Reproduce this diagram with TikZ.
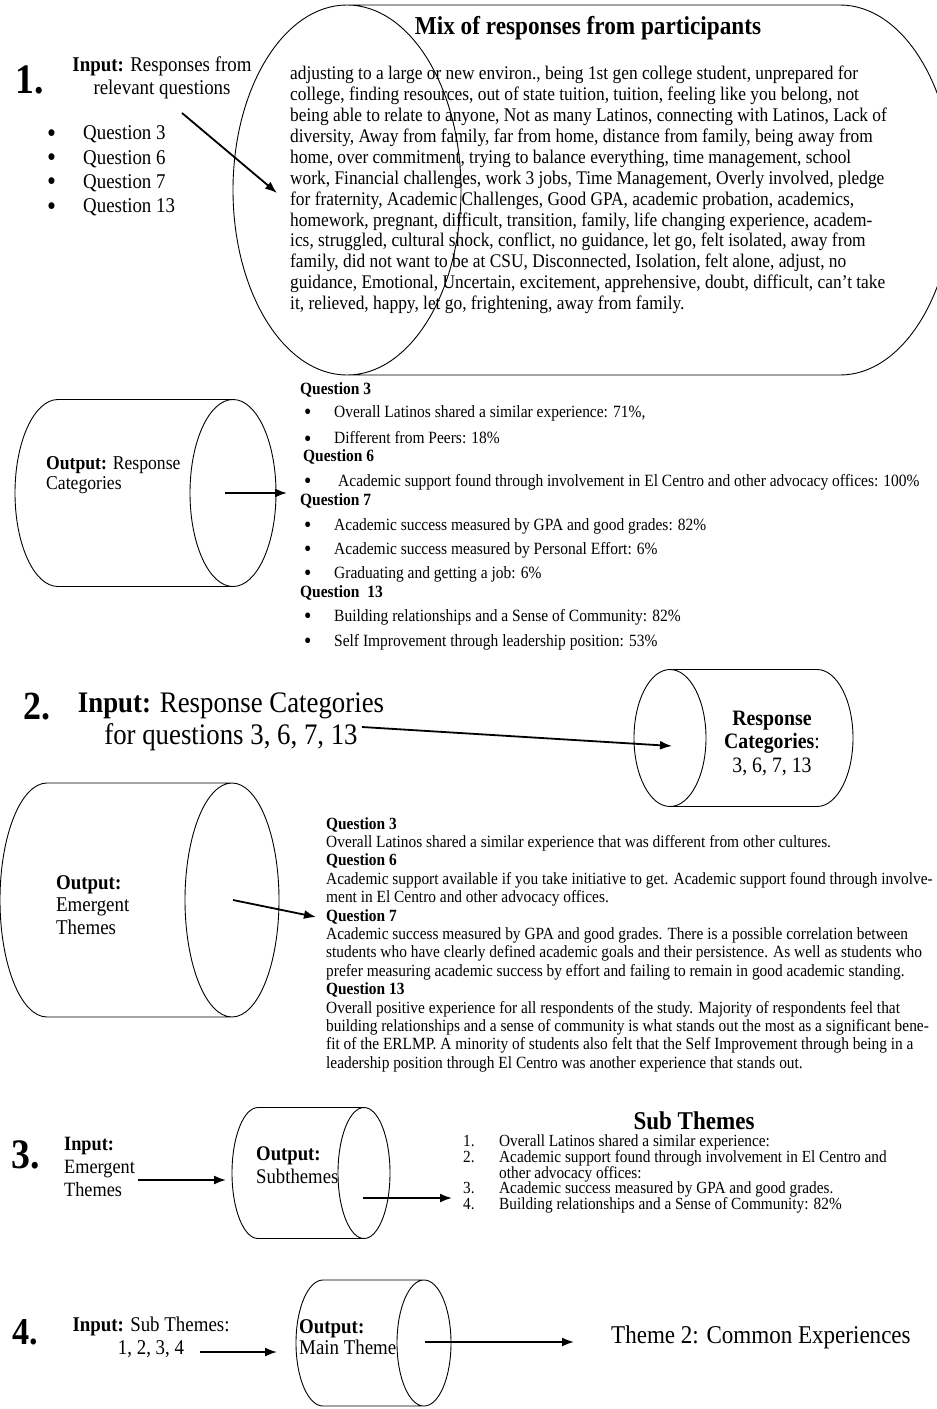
\documentclass[tikz,border=0pt]{standalone}
\usepackage{fontspec}
\setmainfont{Liberation Serif}[FakeStretch=0.9]
\usetikzlibrary{arrows.meta,positioning}
\newcommand{\fs}[2]{\fontsize{#1}{#2}\selectfont}
% cylinder, full ellipse at the right end: left cx, right cx, cy, rx, ry
\newcommand{\drumR}[5]{%
  \draw[drum] (#1,#3-#5) -- (#2,#3-#5) (#1,#3+#5) -- (#2,#3+#5)
    (#1,#3-#5) arc[start angle=-90,end angle=-270,x radius=#4,y radius=#5]
    (#2,#3) ellipse[x radius=#4,y radius=#5];}
% cylinder, full ellipse at the left end
\newcommand{\drumL}[5]{%
  \draw[drum] (#1,#3-#5) -- (#2,#3-#5) (#1,#3+#5) -- (#2,#3+#5)
    (#2,#3-#5) arc[start angle=-90,end angle=90,x radius=#4,y radius=#5]
    (#1,#3) ellipse[x radius=#4,y radius=#5];}
\tikzset{
  drum/.style={line width=0.9pt},
  flow/.style={->,line width=1.8pt},
  lbl/.style={inner sep=0pt,anchor=west,align=left},
  mid/.style={inner sep=0pt,align=center},
  item/.style={lbl,font=\fs{17.2}{18}},
  qhead/.style={lbl,font=\fs{17.2}{18}\bfseries},
}
\newcommand{\bigdot}{\smash{\raisebox{-0.12em}{\scalebox{1.35}{\textbullet}}}}
\newcommand{\bul}{\makebox[30pt][l]{\bigdot}}

\begin{document}
\begin{tikzpicture}[x=1pt,y=-1pt,>={Latex[length=12pt,width=9pt]}]
  \useasboundingbox (0,0) rectangle (937,1409);

  % Step 1: input questions
  \node[lbl,font=\fs{42}{44}\bfseries] (n1) at (15,80) {1.};
  \node[mid,font=\fs{21}{23}] (in1) at (162,78) {\textbf{Input:} Responses from\\relevant questions};
  \node[lbl,font=\fs{21}{24.3}] (qlist) at (47,171) {\makebox[36pt][l]{\bigdot}Question 3\\
    \makebox[36pt][l]{\bigdot}Question 6\\\makebox[36pt][l]{\bigdot}Question 7\\
    \makebox[36pt][l]{\bigdot}Question 13};
  \coordinate (a1) at (182,113);
  \coordinate (b1) at (277,193);
  \draw[flow] (a1) -- (b1);

  % Step 1: mix of responses
  \drumL{347}{840}{190}{114}{185}
  \node[mid,font=\fs{25.8}{28}\bfseries] (mix) at (588,28) {Mix of responses from participants};
  \node[lbl,font=\fs{19.3}{20.9}] (mixtxt) at (290,190) {adjusting to a large or new environ., being 1st gen college student, unprepared for\\
    college, finding resources,  out of state tuition, tuition, feeling like you belong, not\\
    being able to relate to anyone, Not as many Latinos, connecting with Latinos, Lack of\\
    diversity, Away from family, far from home, distance from family, being away from\\
    home, over commitment, trying to balance everything, time management, school\\
    work, Financial challenges, work 3 jobs, Time Management, Overly involved, pledge\\
    for fraternity, Academic Challenges, Good GPA, academic probation, academics,\\
    homework, pregnant, difficult, transition, family, life changing experience, academ-\\
    ics, struggled, cultural shock, conflict, no guidance, let go, felt isolated, away from\\
    family, did not want to be at CSU, Disconnected, Isolation, felt alone, adjust, no\\
    guidance, Emotional, Uncertain, excitement, apprehensive, doubt, difficult, can't take\\
    it, relieved, happy, let go, frightening, away from family.};

  % Step 1: output response categories
  \drumR{58}{233}{493}{43}{93.5}
  \node[lbl,font=\fs{19.6}{20}] (out1) at (46,475) {\textbf{Output:} Response\\Categories};
  \coordinate (a2) at (225,493);
  \coordinate (b2) at (287,493);
  \draw[flow] (a2) -- (b2);

  \node[qhead] (q3) at (300,390) {Question 3};
  \node[item] (q3a) at (304,413) {\bul Overall Latinos shared a similar experience: 71\%,};
  \node[item] (q3b) at (304,438) {\bul Different from Peers: 18\%};
  \node[qhead] (q6) at (303,457) {Question 6};
  \node[item] (q6a) at (304,482) {\bul\hspace{4pt}Academic support found through involvement in El Centro and other advocacy offices: 100\%};
  \node[qhead] (q7) at (300,501) {Question 7};
  \node[item] (q7a) at (304,526) {\bul Academic success measured by GPA and good grades: 82\%};
  \node[item] (q7b) at (304,550) {\bul Academic success measured by Personal Effort: 6\%};
  \node[item] (q7c) at (304,574) {\bul Graduating and getting a job: 6\%};
  \node[qhead] (q13) at (300,593) {Question\ \ 13};
  \node[item] (q13a) at (304,617) {\bul Building relationships and a Sense of Community: 82\%};
  \node[item] (q13b) at (304,642) {\bul Self Improvement through leadership position: 53\%};

  % Step 2: input response categories
  \node[lbl,font=\fs{40}{42}\bfseries] (n2) at (23,707) {2.};
  \node[mid,font=\fs{29.8}{32}] (in2) at (231,722) {\textbf{Input:} Response Categories\\for questions 3, 6, 7, 13};
  \drumL{670}{817}{738}{36}{68.5}
  \node[mid,font=\fs{22}{23.5}] (rc) at (772,743) {\textbf{Response}\\\textbf{Categories}:\\3, 6, 7, 13};
  \coordinate (a3) at (362,727);
  \coordinate (b3) at (672,746);
  \draw[flow] (a3) -- (b3);

  % Step 2: output emergent themes
  \drumR{47}{232}{900}{47}{117}
  \node[lbl,font=\fs{21}{22.5}] (out2) at (56,905) {\textbf{Output:}\\Emergent\\Themes};
  \coordinate (a4) at (233,900);
  \coordinate (b4) at (316,917);
  \draw[flow] (a4) -- (b4);
  \node[lbl,font=\fs{17.1}{18.4}] (emtxt) at (326,944.5) {\textbf{Question 3}\\
    Overall Latinos shared a similar experience that was different from other cultures.\\
    \textbf{Question 6}\\
    Academic support available if you take initiative to get. Academic support found through involve-\\
    ment in El Centro and other advocacy offices.\\
    \textbf{Question 7}\\
    Academic success measured by GPA and good grades. There is a possible correlation between\\
    students who have clearly defined academic goals and their persistence. As well as students who\\
    prefer measuring academic success by effort and failing to remain in good academic standing.\\
    \textbf{Question 13}\\
    Overall positive experience for all respondents of the study. Majority of respondents feel that\\
    building relationships and a sense of community is what stands out the most as a significant bene-\\
    fit of the ERLMP. A minority of students also felt that the Self Improvement through being in a\\
    leadership position through El Centro was another experience that stands out.};

  % Step 3: sub themes
  \node[lbl,font=\fs{42}{44}\bfseries] (n3) at (11,1155) {3.};
  \node[lbl,font=\fs{20.3}{23}] (in3) at (64,1167) {\textbf{Input:}\\Emergent\\Themes};
  \coordinate (a5) at (138,1180);
  \coordinate (b5) at (226,1180);
  \draw[flow] (a5) -- (b5);
  \drumR{258}{364}{1173}{26}{65.5}
  \node[lbl,font=\fs{20.8}{23}] (out3) at (256,1165) {\textbf{Output:}\\Subthemes};
  \coordinate (a6) at (363,1198);
  \coordinate (b6) at (452,1198);
  \draw[flow] (a6) -- (b6);
  \node[mid,font=\fs{25.6}{28}\bfseries] (subt) at (694,1121) {Sub Themes};
  \node[lbl,font=\fs{17}{15.9}] (sublist) at (463,1174) {\makebox[36pt][l]{1.}Overall Latinos shared a similar experience:\\
    \makebox[36pt][l]{2.}Academic support found through involvement in El Centro and\\
    \hspace*{36pt}other advocacy offices:\\
    \makebox[36pt][l]{3.}Academic success measured by GPA and good grades.\\
    \makebox[36pt][l]{4.}Building relationships and a Sense of Community: 82\%};

  % Step 4: main theme
  \node[lbl,font=\fs{38}{40}\bfseries] (n4) at (12,1332) {4.};
  \node[mid,font=\fs{21}{23}] (in4) at (151,1337) {\textbf{Input:} Sub Themes:\\1, 2, 3, 4};
  \coordinate (a7) at (200,1352);
  \coordinate (b7) at (277,1352);
  \draw[flow] (a7) -- (b7);
  \drumR{323}{424}{1343}{27}{63}
  \node[lbl,font=\fs{21}{21}] (out4) at (299,1337) {\textbf{Output:}\\Main Theme};
  \coordinate (a8) at (425,1342);
  \coordinate (b8) at (574,1342);
  \draw[flow] (a8) -- (b8);
  \node[lbl,font=\fs{25.6}{28}] (theme) at (611,1337) {Theme 2: Common Experiences};
\end{tikzpicture}
\end{document}
